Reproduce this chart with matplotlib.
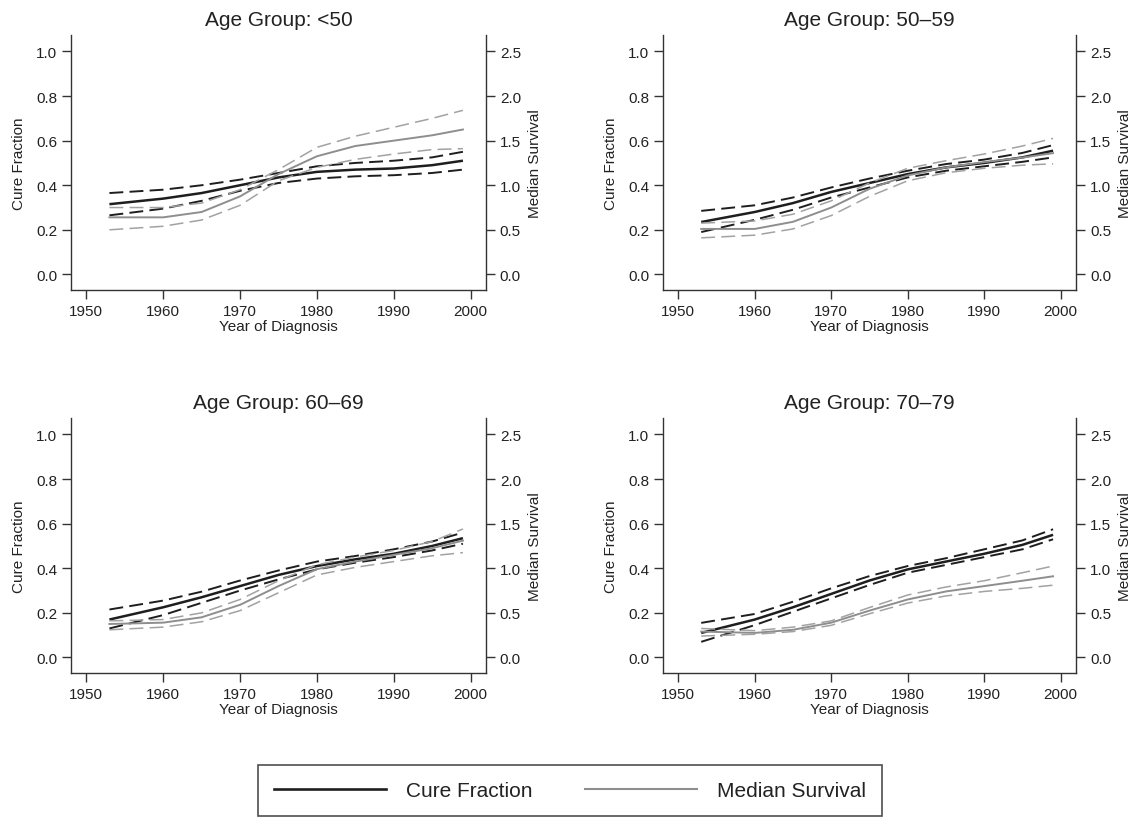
import matplotlib
matplotlib.use("Agg")
import matplotlib.pyplot as plt
from matplotlib.lines import Line2D

plt.rcParams['font.family'] = ['Liberation Sans', 'DejaVu Sans']
plt.rcParams['lines.scale_dashes'] = False

years = [1953, 1960, 1965, 1970, 1975, 1980, 1985, 1990, 1995, 1999]
titles = ["Age Group: <50", "Age Group: 50\u201359", "Age Group: 60\u201369", "Age Group: 70\u201379"]

# cure fraction (left axis) with lower / upper limits
cure_a1 = [0.315, 0.34, 0.365, 0.40, 0.435, 0.46, 0.47, 0.475, 0.49, 0.51]
cure_a1_lo = [0.265, 0.295, 0.33, 0.375, 0.41, 0.43, 0.44, 0.445, 0.455, 0.47]
cure_a1_hi = [0.365, 0.38, 0.40, 0.425, 0.455, 0.485, 0.50, 0.51, 0.525, 0.55]
cure_a2 = [0.235, 0.28, 0.32, 0.37, 0.41, 0.45, 0.48, 0.50, 0.525, 0.555]
cure_a2_lo = [0.19, 0.245, 0.29, 0.345, 0.39, 0.435, 0.465, 0.485, 0.505, 0.525]
cure_a2_hi = [0.285, 0.31, 0.345, 0.39, 0.43, 0.465, 0.495, 0.515, 0.545, 0.58]
cure_a3 = [0.17, 0.225, 0.27, 0.32, 0.37, 0.41, 0.44, 0.465, 0.50, 0.535]
cure_a3_lo = [0.13, 0.19, 0.245, 0.30, 0.35, 0.395, 0.425, 0.45, 0.48, 0.51]
cure_a3_hi = [0.215, 0.255, 0.295, 0.345, 0.39, 0.43, 0.455, 0.485, 0.52, 0.56]
cure_a4 = [0.11, 0.17, 0.225, 0.285, 0.345, 0.395, 0.43, 0.465, 0.505, 0.55]
cure_a4_lo = [0.07, 0.145, 0.205, 0.265, 0.325, 0.38, 0.415, 0.45, 0.485, 0.53]
cure_a4_hi = [0.155, 0.195, 0.25, 0.31, 0.365, 0.41, 0.445, 0.485, 0.525, 0.575]

# median survival (right axis) with lower / upper limits
med_a1 = [0.64, 0.64, 0.70, 0.875, 1.125, 1.325, 1.44, 1.50, 1.56, 1.625]
med_a1_lo = [0.50, 0.54, 0.61, 0.775, 1.05, 1.20, 1.29, 1.35, 1.40, 1.41]
med_a1_hi = [0.75, 0.75, 0.80, 0.95, 1.175, 1.425, 1.55, 1.65, 1.75, 1.84]
med_a2 = [0.51, 0.51, 0.59, 0.75, 0.96, 1.11, 1.20, 1.26, 1.31, 1.36]
med_a2_lo = [0.41, 0.44, 0.51, 0.66, 0.875, 1.05, 1.14, 1.19, 1.225, 1.24]
med_a2_hi = [0.575, 0.60, 0.675, 0.825, 1.025, 1.19, 1.275, 1.35, 1.44, 1.525]
med_a3 = [0.375, 0.39, 0.45, 0.59, 0.80, 0.99, 1.075, 1.15, 1.225, 1.31]
med_a3_lo = [0.31, 0.34, 0.40, 0.525, 0.725, 0.925, 1.01, 1.075, 1.14, 1.175]
med_a3_hi = [0.41, 0.425, 0.50, 0.65, 0.86, 1.04, 1.125, 1.20, 1.30, 1.44]
med_a4 = [0.29, 0.275, 0.31, 0.39, 0.525, 0.65, 0.74, 0.80, 0.86, 0.91]
med_a4_lo = [0.24, 0.26, 0.29, 0.36, 0.49, 0.61, 0.69, 0.74, 0.775, 0.81]
med_a4_hi = [0.325, 0.30, 0.34, 0.41, 0.56, 0.70, 0.79, 0.86, 0.95, 1.025]

cure = [(cure_a1, cure_a1_lo, cure_a1_hi), (cure_a2, cure_a2_lo, cure_a2_hi),
        (cure_a3, cure_a3_lo, cure_a3_hi), (cure_a4, cure_a4_lo, cure_a4_hi)]
med = [(med_a1, med_a1_lo, med_a1_hi), (med_a2, med_a2_lo, med_a2_hi),
       (med_a3, med_a3_lo, med_a3_hi), (med_a4, med_a4_lo, med_a4_hi)]

rects = [[0.0625, 0.6451, 0.3653, 0.3113], [0.5836, 0.6451, 0.3636, 0.3113],
         [0.0625, 0.178, 0.3653, 0.3113], [0.5836, 0.178, 0.3636, 0.3113]]

black = '#1e1e1e'
grey = '#8e8e8e'
axcol = '#333333'
txt = '#222222'

fig = plt.figure(figsize=(11.36, 8.2), dpi=100)

for i in range(4):
    ax = fig.add_axes(rects[i])
    ax2 = ax.twinx()
    fit, lo, hi = cure[i]
    ax.plot(years, fit, color=black, lw=1.8, solid_capstyle='butt')
    ax.plot(years, lo, color=black, lw=1.4, dashes=(10, 4.5))
    ax.plot(years, hi, color=black, lw=1.4, dashes=(10, 4.5))
    mfit, mlo, mhi = med[i]
    ax2.plot(years, mfit, color=grey, lw=1.4)
    ax2.plot(years, mlo, color='#a2a2a2', lw=1.1, dashes=(10, 4.5))
    ax2.plot(years, mhi, color='#a2a2a2', lw=1.1, dashes=(10, 4.5))

    ax.set_xlim(1948, 2002)
    ax.set_ylim(-0.07, 1.075)
    ax2.set_ylim(-0.07 * 2.5, 1.075 * 2.5)
    ax.set_xticks([1950, 1960, 1970, 1980, 1990, 2000])
    ax.set_yticks([0.0, 0.2, 0.4, 0.6, 0.8, 1.0])
    ax.set_yticklabels(['0.0', '0.2', '0.4', '0.6', '0.8', '1.0'])
    ax2.set_yticks([0.0, 0.5, 1.0, 1.5, 2.0, 2.5])
    ax2.set_yticklabels(['0.0', '0.5', '1.0', '1.5', '2.0', '2.5'])

    for a in (ax, ax2):
        a.spines['top'].set_visible(False)
        for s in a.spines.values():
            s.set_color(axcol)
            s.set_linewidth(1.0)
        a.tick_params(direction='out', length=6.5, width=1.0, pad=3.5,
                      labelsize=11, colors=axcol, labelcolor=txt)
    ax.spines['right'].set_visible(False)
    ax2.spines['left'].set_visible(False)
    ax2.spines['bottom'].set_visible(False)

    ax.set_title(titles[i], fontsize=15, color=txt, pad=7)
    ax.set_xlabel('Year of Diagnosis', fontsize=11, color=txt, labelpad=1)
    ax.set_ylabel('Cure Fraction', fontsize=11, color=txt, labelpad=7)
    ax2.set_ylabel('Median Survival', fontsize=11, color=txt, labelpad=5)

handles = [Line2D([], [], color=black, lw=1.9), Line2D([], [], color=grey, lw=1.5)]
leg = fig.legend(handles, ['Cure Fraction', 'Median Survival'], loc='center',
                 bbox_to_anchor=(0.5018, 0.0348), ncol=2, fontsize=15,
                 frameon=True, fancybox=False, handlelength=5.4, handletextpad=0.95,
                 columnspacing=2.5, borderpad=0.75, borderaxespad=0)
leg.get_frame().set_edgecolor('#222222')
leg.get_frame().set_linewidth(1.2)
for t in leg.get_texts():
    t.set_color(txt)

fig.savefig('out.png', dpi=100)
